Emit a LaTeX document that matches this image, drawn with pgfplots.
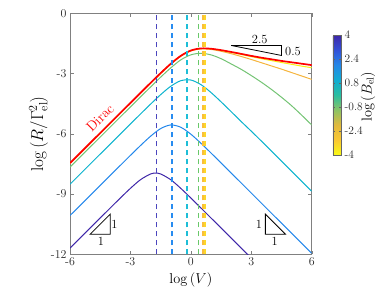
\documentclass[border=0pt]{standalone}
\usepackage{pgfplots}
\pgfplotsset{compat=1.18}
\definecolor{cA}{RGB}{62,38,168}
\definecolor{cB}{RGB}{35,135,235}
\definecolor{cC}{RGB}{10,178,205}
\definecolor{cD}{RGB}{115,195,115}
\definecolor{cE}{RGB}{245,180,60}
\definecolor{cF}{RGB}{249,240,21}
\definecolor{dA}{RGB}{75,70,190}
\definecolor{dB}{RGB}{40,140,240}
\definecolor{dC}{RGB}{30,190,215}
\definecolor{dD}{RGB}{105,200,105}
\definecolor{dE}{RGB}{250,190,60}
\definecolor{dF}{RGB}{252,215,40}
\begin{document}
\begin{tikzpicture}
\useasboundingbox (0,0) rectangle (391bp,305bp);
\begin{axis}[
  at={(70bp,50.7bp)}, anchor=south west,
  scale only axis, width=241.7bp, height=241bp,
  xmin=-6,xmax=6,ymin=-12,ymax=0,
  xtick={-6,-3,0,3,6}, xticklabels={-6,-3,0,3,6},
  ytick={-12,-9,-6,-3,0}, yticklabels={-12,-9,-6,-3,0},
  tick label style={font=\fontsize{12}{14}\selectfont, text=black!85},
  axis line style={black!50},
  tick style={black!50},
  major tick length=3.5bp,
  xlabel={$\log\left(V\right)$},
  ylabel={$\log\left(R/\Gamma_{\mathrm{el}}^2\right)$},
  xlabel style={font=\fontsize{15}{18}\selectfont, at={(axis description cs:0.5,-0.108)}, anchor=center},
  ylabel style={font=\fontsize{16.5}{19}\selectfont, at={(axis description cs:-0.13,0.5)}, anchor=center},
  point meta min=-4, point meta max=4,
  colormap={parrev}{rgb255=(249,251,21) rgb255=(250,200,50) rgb255=(225,185,60) rgb255=(140,195,100) rgb255=(40,190,160) rgb255=(15,172,210) rgb255=(35,135,232) rgb255=(50,80,215) rgb255=(62,38,168)},
  colorbar,
  colorbar style={
    at={(parent axis.north east)}, anchor=north west, xshift=12.6bp, yshift=-21.7bp,
    scale only axis, width=8.4bp, height=120bp,
    ytick={-4,-2.4,-0.8,0.8,2.4,4}, yticklabels={-4,-2.4,-0.8,0.8,2.4,4},
    yticklabel style={font=\fontsize{11.5}{13}\selectfont, text=black!85},
    axis line style={black!60}, tick style={black!60}, major tick length=2bp,
  },
  vl/.style={color=#1, line width=1.25pt, line cap=butt, dash pattern=on 5.5bp off 3.5bp},
]
% curves
\addplot[color=cA, line width=1pt, smooth] coordinates {(-6,-11.69) (-5.5,-11.19) (-5,-10.69) (-4.5,-10.19) (-4,-9.693) (-3.5,-9.197) (-3,-8.716) (-2.5,-8.285) (-2,-8.00) (-1.75,-7.96) (-1.5,-8.00) (-1,-8.285) (-0.5,-8.716) (0,-9.197) (0.5,-9.693) (1,-10.19) (1.5,-10.69) (2,-11.19) (2.5,-11.69) (3,-12.19)};
\addplot[color=cB, line width=1pt, smooth] coordinates {(-6,-10.07) (-5.5,-9.57) (-5,-9.07) (-4.5,-8.57) (-4,-8.07) (-3.5,-7.571) (-3,-7.074) (-2.5,-6.585) (-2,-6.122) (-1.5,-5.741) (-1,-5.56) (-0.5,-5.674) (0,-6.019) (0.5,-6.47) (1,-6.955) (1.5,-7.451) (2,-7.95) (2.5,-8.449) (3,-8.95) (3.5,-9.45) (4,-9.95) (4.5,-10.45) (5,-10.95) (5.5,-11.45) (6,-11.95)};
\addplot[color=cC, line width=1pt, smooth] coordinates {(-6,-8.51) (-5.5,-8.01) (-5,-7.51) (-4.5,-7.01) (-4,-6.51) (-3.5,-6.01) (-3,-5.511) (-2.5,-5.014) (-2,-4.523) (-1.5,-4.052) (-1,-3.635) (-0.5,-3.356) (0,-3.323) (0.5,-3.551) (1,-3.944) (1.5,-4.408) (2,-4.896) (2.5,-5.39) (3,-5.87) (3.5,-6.36) (4,-6.86) (4.5,-7.36) (5,-7.86) (5.5,-8.36) (6,-8.86)};
\addplot[color=cD, line width=1pt, smooth] coordinates {(-6,-7.66) (-5.5,-7.16) (-5,-6.66) (-4.5,-6.16) (-4,-5.66) (-3.5,-5.16) (-3,-4.66) (-2.5,-4.16) (-2,-3.67) (-1.5,-3.18) (-1,-2.72) (-0.5,-2.32) (0,-2.07) (0.5,-1.99) (1,-2.07) (1.5,-2.26) (2,-2.52) (2.5,-2.79) (3,-3.10) (3.5,-3.43) (4,-3.79) (4.5,-4.18) (5,-4.60) (5.5,-5.07) (6,-5.56)};
\addplot[color=cE, line width=1pt, smooth] coordinates {(-6,-7.48) (-5.5,-6.98) (-5,-6.48) (-4.5,-5.98) (-4,-5.48) (-3.5,-4.98) (-3,-4.48) (-2.5,-3.98) (-2,-3.49) (-1.5,-3.00) (-1,-2.535) (-0.5,-2.14) (0,-1.875) (0.5,-1.77) (1,-1.80) (1.5,-1.89) (2,-2.01) (2.5,-2.15) (3,-2.30) (3.5,-2.46) (4,-2.62) (4.5,-2.78) (5,-2.95) (5.5,-3.12) (6,-3.29)};
\addplot[color=cF, line width=1pt, smooth] coordinates {(-6,-7.47) (-5.5,-6.97) (-5,-6.47) (-4.5,-5.97) (-4,-5.47) (-3.5,-4.97) (-3,-4.47) (-2.5,-3.97) (-2,-3.476) (-1.5,-2.988) (-1,-2.525) (-0.5,-2.128) (0,-1.862) (0.5,-1.759) (1,-1.775) (1.5,-1.845) (2,-1.945) (2.5,-2.05) (3,-2.16) (3.5,-2.26) (4,-2.355) (4.5,-2.45) (5,-2.54) (5.5,-2.63) (6,-2.71)};
\addplot[color=red, line width=1.7pt, smooth] coordinates {(-6,-7.46) (-5.5,-6.96) (-5,-6.46) (-4.5,-5.96) (-4,-5.46) (-3.5,-4.96) (-3,-4.461) (-2.5,-3.962) (-2,-3.466) (-1.5,-2.978) (-1,-2.515) (-0.5,-2.118) (0,-1.852) (0.5,-1.749) (1,-1.765) (1.5,-1.834) (2,-1.925) (2.5,-2.02) (3,-2.12) (3.5,-2.21) (4,-2.29) (4.5,-2.37) (5,-2.44) (5.5,-2.51) (6,-2.58)};
% dashed peak positions
\addplot[vl=dA] coordinates {(-1.72,-12) (-1.72,0)};
\addplot[vl=dB] coordinates {(-0.94,-12) (-0.94,0)};
\addplot[vl=dC] coordinates {(-0.19,-12) (-0.19,0)};
\addplot[vl=dD] coordinates {(0.37,-12) (0.37,0)};
\addplot[vl=dE] coordinates {(0.60,-12) (0.60,0)};
\addplot[vl=dF] coordinates {(0.70,-12) (0.70,0)};
% annotations
\node[red, rotate=45, font=\fontsize{14}{16}\selectfont] at (axis cs:-4.51,-5.21) {Dirac};
\draw[black, line width=0.8pt] (axis cs:-5,-11) -- (axis cs:-4,-11) -- (axis cs:-4,-10) -- cycle;
\draw[black, line width=0.8pt] (axis cs:3.7,-10) -- (axis cs:3.7,-11) -- (axis cs:4.7,-11) -- cycle;
\draw[black, line width=0.8pt] (axis cs:2,-1.6) -- (axis cs:4.5,-1.6) -- (axis cs:4.5,-2.1) -- cycle;
\node[font=\fontsize{12.5}{14}\selectfont] at (axis cs:-3.8,-10.5) {1};
\node[font=\fontsize{12.5}{14}\selectfont] at (axis cs:-4.46,-11.36) {1};
\node[font=\fontsize{12.5}{14}\selectfont] at (axis cs:3.38,-10.5) {1};
\node[font=\fontsize{12.5}{14}\selectfont] at (axis cs:4.16,-11.36) {1};
\node[font=\fontsize{12.5}{14}\selectfont] at (axis cs:3.42,-1.29) {2.5};
\node[font=\fontsize{12.5}{14}\selectfont] at (axis cs:5.07,-1.88) {0.5};
\end{axis}
\node[rotate=90, font=\fontsize{14}{16}\selectfont] at (368bp,208.3bp) {$\log\left(B_{\mathrm{el}}\right)$};
\end{tikzpicture}
\end{document}
